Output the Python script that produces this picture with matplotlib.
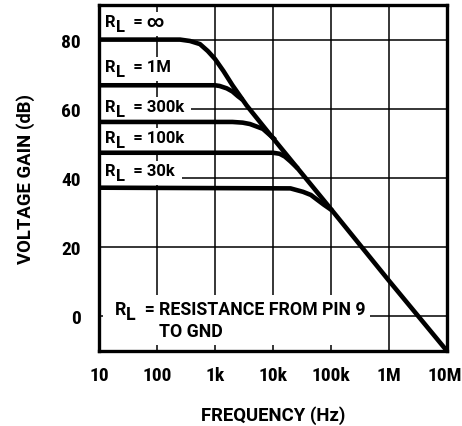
import matplotlib
matplotlib.use('Agg')
import matplotlib.pyplot as plt
from matplotlib.patches import Rectangle
from matplotlib.transforms import Bbox, IdentityTransform, ScaledTranslation

# Data (frequency in Hz, gain in dB)
f_inf = [10, 100, 250, 370, 550, 750, 1000, 1400, 2000, 3500, 10000, 100000, 1e6, 1e7]
g_inf = [80, 80, 80, 79.6, 78.7, 76.7, 74.4, 70.9, 66.8, 61.0, 51.5, 31.0, 10.3, -10]

f_1m = [10, 1000, 1200, 1600, 2000, 2500, 3000]
g_1m = [66.8, 66.8, 66.6, 65.9, 65.0, 63.6, 62.6]

f_300k = [10, 2000, 3000, 4000, 6700, 11000]
g_300k = [56.2, 56.2, 56.0, 55.6, 54.2, 51.0]

f_100k = [10, 10000, 13000, 16000, 20000, 27000]
g_100k = [47.3, 47.3, 47.0, 46.2, 44.8, 42.7]

f_30k = [10, 20000, 33000, 45000, 57000, 75000, 105000]
g_30k = [37.2, 37.0, 36.0, 35.1, 33.8, 32.3, 30.6]

curve_names = ['\u221e', '1M', '300k', '100k', '30k']
label_y = [83.9, 70.9, 59.3, 50.3, 40.8]

x_ticks = [10, 100, 1e3, 1e4, 1e5, 1e6, 1e7]
x_ticklabels = ['10', '100', '1k', '10k', '100k', '1M', '10M']
y_ticks = [0, 20, 40, 60, 80]

plt.rcParams['font.family'] = ['Roboto', 'DejaVu Sans']
plt.rcParams['font.weight'] = 'bold'
tick_font = ['Roboto Condensed', 'DejaVu Sans']

fig = plt.figure(figsize=(4.62, 4.27), dpi=100)
ax = fig.add_axes([99/462, 75/427, 348/462, 346/427])

ax.set_xscale('log')
ax.set_xlim(10, 1e7)
ax.set_ylim(-10, 90)
ax.set_xticks(x_ticks)
ax.set_xticklabels(x_ticklabels)
ax.xaxis.set_minor_locator(matplotlib.ticker.NullLocator())
ax.set_yticks(y_ticks)
ax.tick_params(length=0, labelsize=14)
ax.tick_params(axis='x', pad=11)
ax.tick_params(axis='y', pad=13)
for lab in ax.get_xticklabels() + ax.get_yticklabels():
    lab.set_fontfamily(tick_font)
# last label sits a little left so it stays inside the picture
last = ax.get_xticklabels()[-1]
last.set_transform(last.get_transform() + ScaledTranslation(-2/100, 0, fig.dpi_scale_trans))
ax.grid(True, color='black', linewidth=1.1, zorder=0)
ax.set_axisbelow(True)
for sp in ax.spines.values():
    sp.set_linewidth(2.4)
    sp.set_zorder(10)

for f, g in [(f_inf, g_inf), (f_1m, g_1m), (f_300k, g_300k), (f_100k, g_100k), (f_30k, g_30k)]:
    ax.plot(f, g, color='black', linewidth=3.3, solid_capstyle='butt', zorder=6)

ax.set_xlabel('FREQUENCY (Hz)', fontsize=13.3, fontweight='bold', labelpad=15)
ax.set_ylabel('VOLTAGE GAIN (dB)', fontsize=13.3, fontweight='bold', labelpad=19)

kw = dict(fontsize=12, fontweight='bold', zorder=4)


def rl_pieces(x, y, rest, size=12):
    ''' R with a full size, lowered L, then the rest of the text '''
    k = dict(kw, fontsize=size)
    r = ax.text(x, y, 'R', va='baseline', ha='left', **k)
    l = ax.annotate('L', xy=(1, 0), xycoords=r, xytext=(0.3, -3.5),
                    textcoords='offset points', va='bottom', ha='left', **k)
    t = ax.annotate('  = ' + rest, xy=(1, 0), xycoords=l, xytext=(0, 3.5),
                    textcoords='offset points', va='bottom', ha='left', **k)
    return [r, l, t]


groups = []
for name, y in zip(curve_names, label_y):
    groups.append((rl_pieces(12.8, y, name), 7, 2))

# note at the bottom
note_kw = dict(kw, fontsize=12.8)
note = rl_pieces(18.5, 0.7, '', size=12.8)
res = ax.annotate('RESISTANCE FROM PIN 9', xy=(1, 0), xycoords=note[2],
                  va='bottom', ha='left', **note_kw)
gnd = ax.annotate('TO GND', xy=(0, 0), xycoords=res, xytext=(0, -15.5),
                  textcoords='offset points', va='bottom', ha='left', **note_kw)
groups.append((note + [res, gnd], 4, 5))

# white patches behind the labels so the grid stops there
fig.canvas.draw()
renderer = fig.canvas.get_renderer()
x_left = ax.get_window_extent(renderer).x0 + 4
for pieces, padx, pady in groups:
    bb = Bbox.union([p.get_window_extent(renderer) for p in pieces])
    x0 = min(bb.x0 - padx, x_left)
    ax.add_artist(Rectangle((x0, bb.y0 - pady), bb.x1 + padx - x0, bb.height + 2 * pady,
                            transform=IdentityTransform(), facecolor='white',
                            edgecolor='none', zorder=3))

fig.savefig('out.png', dpi=100)
